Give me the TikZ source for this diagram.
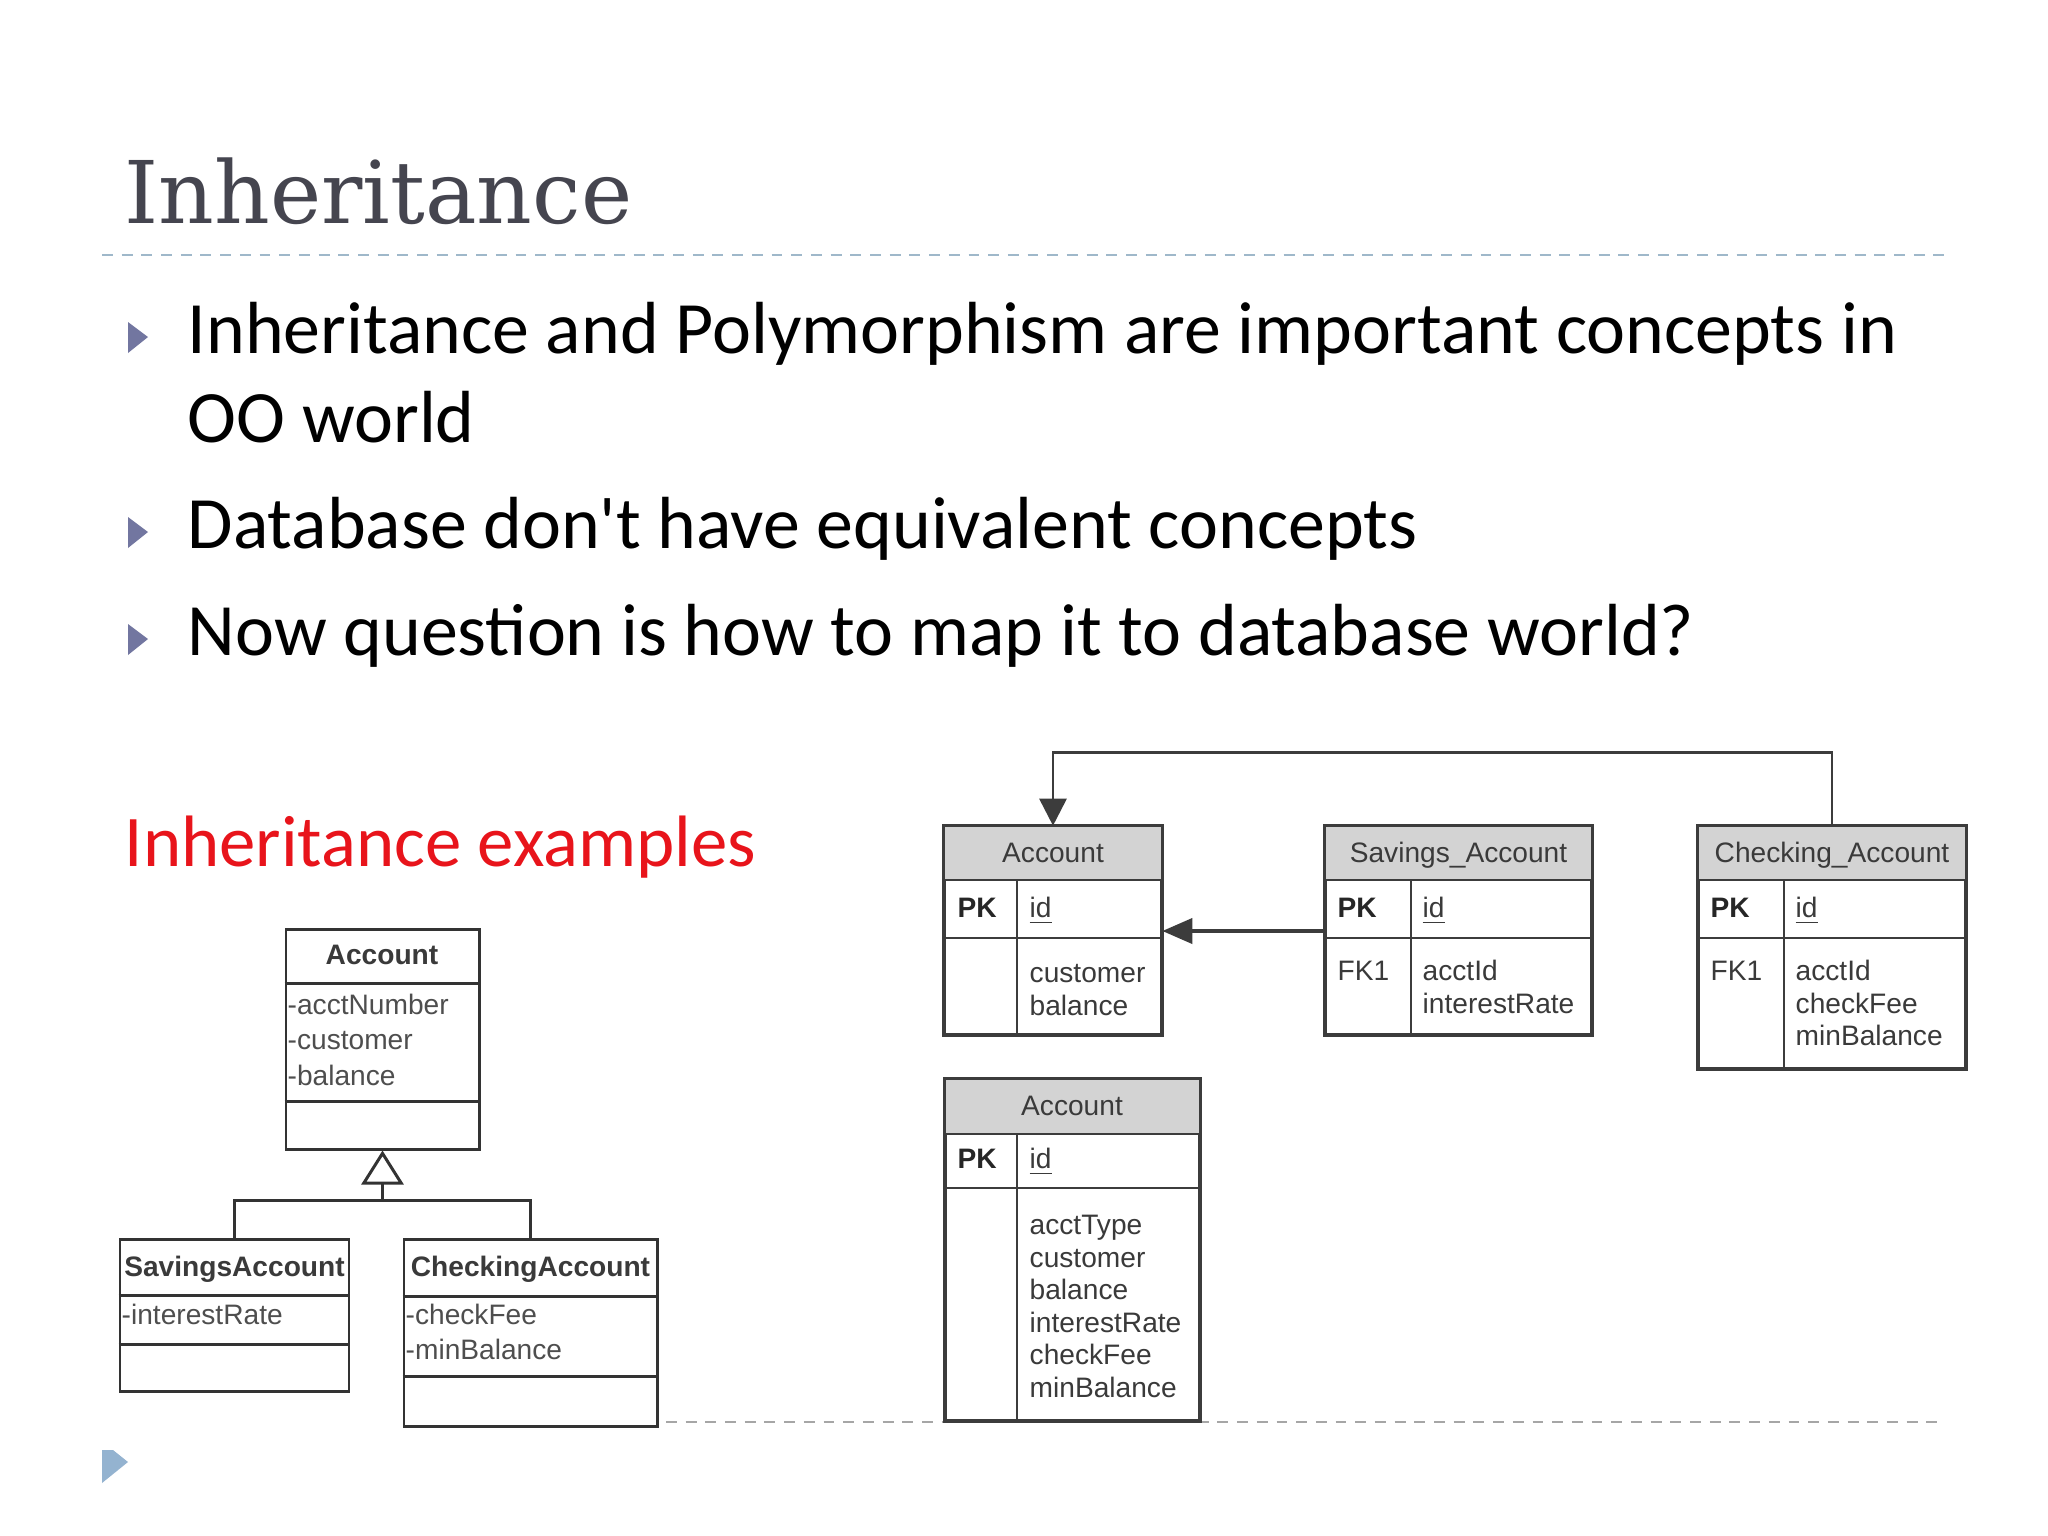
\documentclass[tikz,border=0pt]{standalone}
\usepackage{fontspec}
\setmainfont{Carlito}
\newfontfamily\titlefont{DejaVu Serif}
\newfontfamily\arialfont{Liberation Sans}
\usetikzlibrary{arrows.meta,fit}
\definecolor{titlegray}{HTML}{45454F}
\definecolor{dashblue}{HTML}{9FB8CA}
\definecolor{bulletblue}{HTML}{7276A0}
\definecolor{cornerblue}{HTML}{94B3D0}
\definecolor{linegray}{HTML}{333333}
\definecolor{ergray}{HTML}{3C3C3C}
\definecolor{hdrgray}{HTML}{D3D3D3}
\definecolor{exred}{HTML}{E8141B}
\definecolor{txtgray}{HTML}{3A3A3A}
\tikzset{
  titlestyle/.style={anchor=base west, inner sep=0pt, text=titlegray, font=\titlefont\fontsize{24.6}{29}\selectfont},
  bullettext/.style={anchor=base west, inner sep=0pt, text=black, font=\fontsize{21}{25}\selectfont},
  redtext/.style={anchor=base west, inner sep=0pt, text=exred, font=\fontsize{20.7}{24}\selectfont},
  dashline/.style={dashblue, line width=0.8pt, dash pattern=on 3.1pt off 2.5pt},
  umlbox/.style={draw=linegray, line width=0.85pt, inner sep=0pt, fill=white},
  umlline/.style={linegray, line width=0.85pt},
  umltitle/.style={anchor=base, inner sep=0pt, text=txtgray, font=\arialfont\bfseries\fontsize{8}{9.6}\selectfont},
  umlattr/.style={anchor=base west, inner sep=0pt, text=txtgray!90, font=\arialfont\fontsize{8}{9.6}\selectfont},
  erbox/.style={draw=ergray, line width=0.75pt, inner sep=0pt, fill=white},
  erline/.style={ergray, line width=0.75pt},
  ertitle/.style={anchor=base, inner sep=0pt, text=txtgray, font=\arialfont\fontsize{8}{9.6}\selectfont},
  ertext/.style={anchor=base west, inner sep=0pt, text=txtgray, font=\arialfont\fontsize{8}{9.6}\selectfont},
  erkey/.style={anchor=base west, inner sep=0pt, text=black!85, font=\arialfont\bfseries\fontsize{8}{9.6}\selectfont},
  conn/.style={ergray, line width=0.8pt},
}
\begin{document}
\begin{tikzpicture}[x=0.01cm,y=-0.01cm]
\useasboundingbox (0,0) rectangle (2048,1536);
\fill[white] (0,0) rectangle (2048,1536);

% title
\node[titlestyle] (title) at (124,223) {Inheritance};
\draw[dashline] (102,255) -- (1946,255);

% bullets
\foreach \by in {353,548,655}{
  \fill[bulletblue] (128,\by-31) -- (148,\by-16) -- (128,\by) -- cycle;
}
\node[bullettext] (b1) at (187,353) {Inheritance and Polymorphism are important concepts in};
\node[bullettext] (b1b) at (187,442) {OO world};
\node[bullettext] (b2) at (187,548) {Database don\textquotesingle t have equivalent concepts};
\node[bullettext] (b3) at (187,655) {Now question is how to map it to database world?};

\node[redtext] (ex) at (124,866) {Inheritance examples};

% bottom dashed line and corner mark
\draw[dashline, draw=black!35] (666,1422) -- (1946,1422);
\fill[cornerblue] (102,1450) -- (113,1450) -- (128,1462) -- (102,1483) -- cycle;

% ---------------- UML class diagram ----------------
\node[umlbox, fit={(286,929) (479,1149)}] (uA) {};
\draw[umlline] (uA.west |- 0,983) -- (uA.east |- 0,983);
\draw[umlline] (uA.west |- 0,1101) -- (uA.east |- 0,1101);
\node[umltitle] (uAt) at (382,964) {Account};
\node[umlattr] (uA1) at (287,1014) {-acctNumber};
\node[umlattr] (uA2) at (287,1049) {-customer};
\node[umlattr] (uA3) at (287,1085) {-balance};

\node[umlbox, fit={(120,1239) (349,1391)}] (uS) {};
\draw[umlline] (uS.west |- 0,1295) -- (uS.east |- 0,1295);
\draw[umlline] (uS.west |- 0,1344) -- (uS.east |- 0,1344);
\node[umltitle] (uSt) at (234.5,1276) {SavingsAccount};
\node[umlattr] (uS1) at (121,1324) {-interestRate};

\node[umlbox, fit={(404,1239) (657,1426)}] (uC) {};
\draw[umlline] (uC.west |- 0,1296) -- (uC.east |- 0,1296);
\draw[umlline] (uC.west |- 0,1376) -- (uC.east |- 0,1376);
\node[umltitle] (uCt) at (530.5,1276) {CheckingAccount};
\node[umlattr] (uC1) at (405,1324) {-checkFee};
\node[umlattr] (uC2) at (405,1359) {-minBalance};

\coordinate (uj) at (uA.south |- 0,1200);
\draw[umlline] (uS.north) |- (uj) -| (uC.north);
\draw[umlline, -{Triangle[open, length=0.34cm, width=0.42cm, fill=white]}] (uj) -- (uA.south);

% ---------------- ER tables ----------------
% Account (table per class)
\node[erbox, fit={(945,827) (1161,1034)}] (eA) {};
\fill[hdrgray] (eA.north west) rectangle (eA.east |- 0,880);
\draw[erline] (eA.north west) rectangle (eA.south east);
\draw[erline] (eA.west |- 0,880) -- (eA.east |- 0,880);
\draw[erline] (eA.west |- 0,938) -- (eA.east |- 0,938);
\draw[erline] (1017,880) -- (1017,1034);
\node[ertitle] (eAt) at (1053,862) {Account};
\node[erkey] (eAk) at (957,917) {PK};
\node[ertext] (eAid) at (1029,917) {\underline{id}};
\node[ertext] (eA1) at (1029,982) {customer};
\node[ertext] (eA2) at (1029,1015) {balance};

% Savings_Account
\node[erbox, fit={(1326,827) (1591,1034)}] (eS) {};
\fill[hdrgray] (eS.north west) rectangle (eS.east |- 0,880);
\draw[erline] (eS.north west) rectangle (eS.south east);
\draw[erline] (eS.west |- 0,880) -- (eS.east |- 0,880);
\draw[erline] (eS.west |- 0,938) -- (eS.east |- 0,938);
\draw[erline] (1411,880) -- (1411,1034);
\node[ertitle] (eSt) at (1458.5,862) {Savings\_Account};
\node[erkey] (eSk) at (1337,917) {PK};
\node[ertext] (eSid) at (1422,917) {\underline{id}};
\node[ertext] (eSf) at (1337,980) {FK1};
\node[ertext] (eS1) at (1422,980) {acctId};
\node[ertext] (eS2) at (1422,1013) {interestRate};

% Checking_Account
\node[erbox, fit={(1699,827) (1965,1068)}] (eC) {};
\fill[hdrgray] (eC.north west) rectangle (eC.east |- 0,880);
\draw[erline] (eC.north west) rectangle (eC.south east);
\draw[erline] (eC.west |- 0,880) -- (eC.east |- 0,880);
\draw[erline] (eC.west |- 0,938) -- (eC.east |- 0,938);
\draw[erline] (1784,880) -- (1784,1068);
\node[ertitle] (eCt) at (1832,862) {Checking\_Account};
\node[erkey] (eCk) at (1710,917) {PK};
\node[ertext] (eCid) at (1795,917) {\underline{id}};
\node[ertext] (eCf) at (1710,980) {FK1};
\node[ertext] (eC1) at (1795,980) {acctId};
\node[ertext] (eC2) at (1795,1013) {checkFee};
\node[ertext] (eC3) at (1795,1045) {minBalance};

% single-table Account
\node[erbox, fit={(946,1080) (1199,1420)}] (eT) {};
\fill[hdrgray] (eT.north west) rectangle (eT.east |- 0,1134);
\draw[erline] (eT.north west) rectangle (eT.south east);
\draw[erline] (eT.west |- 0,1134) -- (eT.east |- 0,1134);
\draw[erline] (eT.west |- 0,1188) -- (eT.east |- 0,1188);
\draw[erline] (1017,1134) -- (1017,1420);
\node[ertitle] (eTt) at (1072,1115) {Account};
\node[erkey] (eTk) at (957,1168) {PK};
\node[ertext] (eTid) at (1029,1168) {\underline{id}};
\node[ertext] (eT1) at (1029,1234) {acctType};
\node[ertext] (eT2) at (1029,1267) {customer};
\node[ertext] (eT3) at (1029,1299) {balance};
\node[ertext] (eT4) at (1029,1332) {interestRate};
\node[ertext] (eT5) at (1029,1364) {checkFee};
\node[ertext] (eT6) at (1029,1397) {minBalance};

% connectors
\draw[conn, -{Triangle[length=0.27cm, width=0.27cm]}] (eC.north) -- ++(0,-73) -| (eA.north);
\draw[conn, line width=1.1pt, -{Triangle[length=0.3cm, width=0.25cm]}] (eS.west |- 0,931) -- (eA.east |- 0,931);
\end{tikzpicture}
\end{document}
